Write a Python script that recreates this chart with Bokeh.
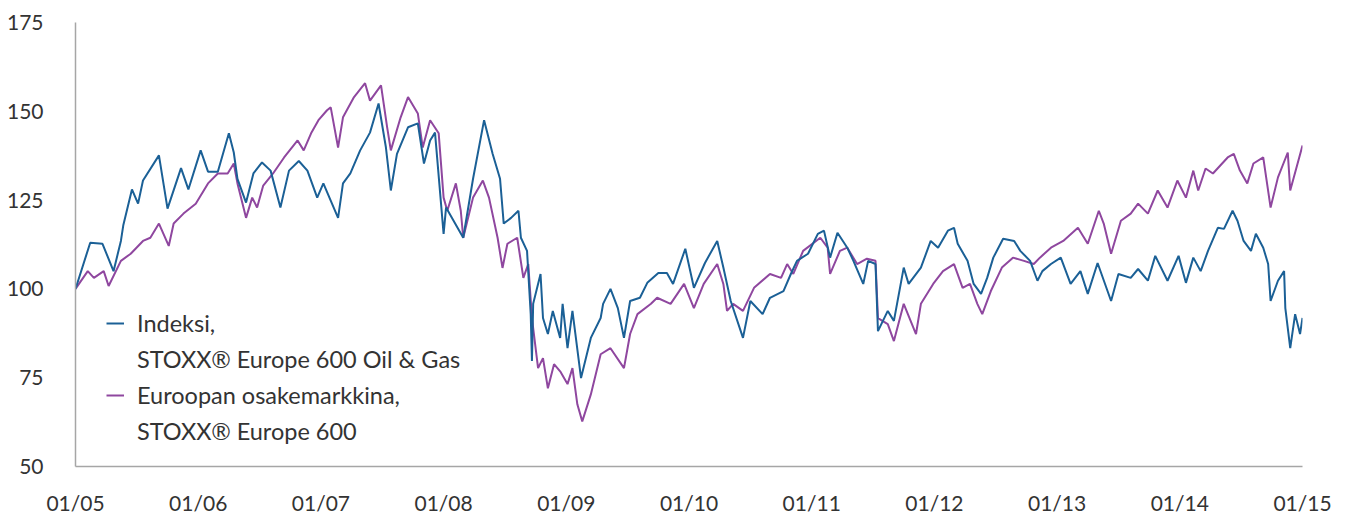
from bokeh.plotting import figure
from bokeh.models import FixedTicker, Legend, LegendItem, Range1d
from bokeh.embed import file_html
from bokeh.resources import INLINE

# Oil & Gas index (decimal year, value)
oil_t = [2005.00, 2005.12, 2005.22, 2005.31, 2005.37, 2005.39, 2005.46, 2005.51, 2005.55, 2005.68,
         2005.75, 2005.86, 2005.92, 2006.02, 2006.08, 2006.16, 2006.25, 2006.29, 2006.32, 2006.39,
         2006.45, 2006.52, 2006.59, 2006.67, 2006.74, 2006.82, 2006.89, 2006.97, 2007.02, 2007.14,
         2007.18, 2007.24, 2007.32, 2007.40, 2007.47, 2007.53, 2007.57, 2007.62, 2007.71, 2007.79,
         2007.84, 2007.89, 2007.93, 2008.00, 2008.02, 2008.16, 2008.24, 2008.33, 2008.40, 2008.46,
         2008.49, 2008.55, 2008.61, 2008.63, 2008.68, 2008.71, 2008.72, 2008.73, 2008.79, 2008.81,
         2008.85, 2008.89, 2008.95, 2008.97, 2009.01, 2009.05, 2009.12, 2009.20, 2009.28, 2009.30,
         2009.36, 2009.42, 2009.47, 2009.52, 2009.60, 2009.66, 2009.75, 2009.82, 2009.87, 2009.97,
         2010.04, 2010.13, 2010.23, 2010.28, 2010.34, 2010.44, 2010.50, 2010.60, 2010.66, 2010.77,
         2010.83, 2010.88, 2010.97, 2011.05, 2011.10, 2011.15, 2011.21, 2011.29, 2011.34, 2011.42,
         2011.46, 2011.52, 2011.54, 2011.62, 2011.67, 2011.75, 2011.79, 2011.89, 2011.97, 2012.03,
         2012.11, 2012.16, 2012.19, 2012.27, 2012.32, 2012.38, 2012.43, 2012.48, 2012.56, 2012.65,
         2012.70, 2012.78, 2012.84, 2012.88, 2012.95, 2013.03, 2013.11, 2013.19, 2013.25, 2013.33,
         2013.44, 2013.50, 2013.60, 2013.66, 2013.74, 2013.80, 2013.90, 2013.99, 2014.05, 2014.11,
         2014.17, 2014.23, 2014.31, 2014.36, 2014.43, 2014.47, 2014.52, 2014.58, 2014.62, 2014.68,
         2014.72, 2014.74, 2014.80, 2014.85, 2014.86, 2014.90, 2014.94, 2014.98, 2015.00]
oil_v = [100.0, 113.0, 112.7, 105.0, 113.5, 118.0, 128.0, 124.0, 130.5, 137.6,
         122.6, 134.0, 128.0, 139.0, 133.0, 133.0, 143.8, 138.4, 131.0, 124.3,
         132.5, 135.6, 133.3, 122.9, 133.3, 136.0, 133.3, 125.7, 129.7, 120.0,
         129.7, 132.5, 139.0, 144.0, 152.2, 139.8, 127.7, 138.0, 145.5, 146.6,
         135.3, 141.8, 144.0, 115.5, 122.9, 114.4, 131.0, 147.5, 138.0, 131.0,
         118.4, 120.0, 122.0, 114.4, 110.7, 92.9, 79.7, 95.8, 104.2, 91.8,
         87.3, 93.8, 86.2, 95.8, 83.3, 93.8, 74.9, 86.2, 91.8, 95.8,
         100.0, 94.6, 86.2, 96.6, 97.5, 101.7, 104.5, 104.5, 101.4, 111.3,
         100.3, 107.3, 113.5, 106.0, 96.6, 86.2, 96.6, 92.9, 97.5, 99.4,
         104.2, 107.9, 109.9, 115.5, 116.4, 108.8, 115.8, 111.6, 107.9, 101.4,
         107.9, 107.0, 88.1, 93.8, 91.0, 106.0, 101.4, 106.0, 113.5, 111.6,
         116.4, 117.2, 112.7, 107.9, 101.4, 98.6, 103.1, 108.8, 114.1, 113.5,
         110.7, 107.9, 102.3, 105.0, 107.0, 108.8, 101.4, 105.0, 98.6, 107.3,
         96.6, 104.2, 103.1, 105.6, 102.3, 109.3, 102.3, 109.3, 101.7, 108.8,
         105.0, 110.7, 117.2, 116.9, 122.0, 119.2, 113.5, 110.7, 115.5, 111.6,
         107.0, 96.6, 102.3, 105.0, 94.6, 83.3, 92.9, 87.3, 91.8]

# STOXX Europe 600 (decimal year, value)
eur_t = [2005.00, 2005.10, 2005.15, 2005.23, 2005.27, 2005.37, 2005.45, 2005.55, 2005.61, 2005.68,
         2005.76, 2005.80, 2005.88, 2005.98, 2006.08, 2006.16, 2006.24, 2006.29, 2006.32, 2006.39,
         2006.44, 2006.48, 2006.53, 2006.61, 2006.70, 2006.81, 2006.86, 2006.92, 2006.98, 2007.05,
         2007.08, 2007.14, 2007.18, 2007.27, 2007.36, 2007.40, 2007.49, 2007.54, 2007.57, 2007.65,
         2007.71, 2007.79, 2007.83, 2007.89, 2007.96, 2008.00, 2008.03, 2008.10, 2008.14, 2008.16,
         2008.24, 2008.32, 2008.37, 2008.44, 2008.48, 2008.52, 2008.60, 2008.65, 2008.69, 2008.72,
         2008.77, 2008.81, 2008.85, 2008.90, 2008.95, 2009.01, 2009.05, 2009.09, 2009.13, 2009.20,
         2009.28, 2009.36, 2009.47, 2009.52, 2009.58, 2009.69, 2009.74, 2009.85, 2009.96, 2010.04,
         2010.12, 2010.23, 2010.28, 2010.31, 2010.36, 2010.44, 2010.53, 2010.66, 2010.75, 2010.80,
         2010.85, 2010.93, 2011.07, 2011.13, 2011.15, 2011.23, 2011.29, 2011.37, 2011.45, 2011.52,
         2011.54, 2011.62, 2011.67, 2011.75, 2011.85, 2011.89, 2011.99, 2012.07, 2012.16, 2012.23,
         2012.29, 2012.35, 2012.39, 2012.46, 2012.55, 2012.64, 2012.73, 2012.81, 2012.86, 2012.95,
         2013.05, 2013.17, 2013.25, 2013.34, 2013.38, 2013.44, 2013.52, 2013.60, 2013.66, 2013.74,
         2013.82, 2013.90, 2013.98, 2014.05, 2014.11, 2014.15, 2014.21, 2014.27, 2014.39, 2014.44,
         2014.49, 2014.55, 2014.60, 2014.68, 2014.74, 2014.80, 2014.88, 2014.90, 2014.96, 2015.00]
eur_v = [100.0, 105.0, 103.1, 105.0, 100.8, 107.9, 109.9, 113.5, 114.4, 118.4,
         112.1, 118.4, 121.2, 124.0, 129.7, 132.5, 132.5, 135.3, 129.7, 120.0,
         125.7, 122.9, 129.1, 132.5, 137.0, 141.8, 139.0, 143.8, 147.5, 150.3,
         151.1, 139.8, 148.3, 154.0, 157.9, 153.0, 157.3, 145.5, 139.0, 148.3,
         154.0, 149.4, 139.8, 147.5, 143.8, 125.7, 122.0, 129.7, 122.0, 114.4,
         125.7, 130.5, 125.7, 114.4, 105.9, 112.7, 114.4, 103.1, 107.0, 91.8,
         77.7, 80.5, 72.0, 78.8, 76.8, 73.2, 77.7, 67.5, 62.7, 70.3,
         81.6, 83.3, 77.7, 87.3, 92.9, 95.8, 97.5, 95.8, 101.4, 94.6,
         101.4, 107.0, 101.4, 93.8, 95.8, 93.8, 100.3, 104.2, 103.1, 107.0,
         104.2, 110.7, 114.4, 111.6, 104.2, 110.7, 111.6, 107.0, 108.5, 107.9,
         91.8, 90.1, 85.3, 95.8, 87.3, 95.8, 101.4, 105.0, 107.0, 100.3,
         101.4, 95.8, 92.9, 99.4, 106.0, 108.8, 107.9, 107.0, 108.8, 111.6,
         113.5, 117.2, 112.7, 122.0, 118.4, 109.9, 119.2, 121.2, 124.0, 121.2,
         127.7, 122.9, 130.5, 125.7, 133.3, 127.7, 133.9, 132.5, 137.0, 138.0,
         133.3, 129.7, 135.3, 137.0, 122.9, 131.4, 138.4, 127.7, 135.3, 140.4]

x_ticks = [2005, 2006, 2007, 2008, 2009, 2010, 2011, 2012, 2013, 2014, 2015]
x_labels = ["01/05", "01/06", "01/07", "01/08", "01/09", "01/10",
            "01/11", "01/12", "01/13", "01/14", "01/15"]
y_ticks = [50, 75, 100, 125, 150, 175]

legend_lines_oil = ["Indeksi,", "STOXX® Europe 600 Oil & Gas"]
legend_lines_eur = ["Euroopan osakemarkkina,", "STOXX® Europe 600"]

BLUE = "#1b6096"
PURPLE = "#8f479f"
FONT = "Lato"
TXT = "#333333"

p = figure(frame_width=1227, frame_height=444, output_backend="svg", toolbar_location=None,
           x_range=Range1d(2005, 2015), y_range=Range1d(50, 175),
           min_border_left=75, min_border_right=44, min_border_top=22, min_border_bottom=46)
p.outline_line_color = None
p.xgrid.visible = False
p.ygrid.visible = False

r_eur = p.line(eur_t, eur_v, line_color=PURPLE, line_width=2)
r_oil = p.line(oil_t, oil_v, line_color=BLUE, line_width=2)
# invisible renderers only used for second legend lines
r_blank1 = p.line([], [], line_alpha=0)
r_blank2 = p.line([], [], line_alpha=0)

for ax in (p.xaxis[0], p.yaxis[0]):
    ax.axis_line_color = "#a6a6a6"
    ax.axis_line_width = 1.5
    ax.major_tick_line_color = None
    ax.minor_tick_line_color = None
    ax.major_tick_out = 0
    ax.major_tick_in = 0
    ax.minor_tick_out = 0
    ax.minor_tick_in = 0
    ax.major_label_text_font = FONT
    ax.major_label_text_font_size = "21px"
    ax.major_label_text_color = TXT

p.xaxis.ticker = FixedTicker(ticks=x_ticks)
p.xaxis.major_label_overrides = {t: l for t, l in zip(x_ticks, x_labels)}
p.xaxis.major_label_standoff = 23
p.yaxis.ticker = FixedTicker(ticks=y_ticks)
p.yaxis.major_label_standoff = 32

legend = Legend(items=[LegendItem(label=legend_lines_oil[0], renderers=[r_oil]),
                       LegendItem(label=legend_lines_oil[1], renderers=[r_blank1]),
                       LegendItem(label=legend_lines_eur[0], renderers=[r_eur]),
                       LegendItem(label=legend_lines_eur[1], renderers=[r_blank2])],
                location=(31, 21), background_fill_alpha=0, border_line_color=None,
                label_text_font=FONT, label_text_font_size="23.5px", label_text_color=TXT,
                glyph_width=18, glyph_height=20, label_height=25, spacing=8,
                padding=0, margin=0, label_standoff=13)
p.add_layout(legend, "center")

open("out.html", "w").write(file_html(p, INLINE))
